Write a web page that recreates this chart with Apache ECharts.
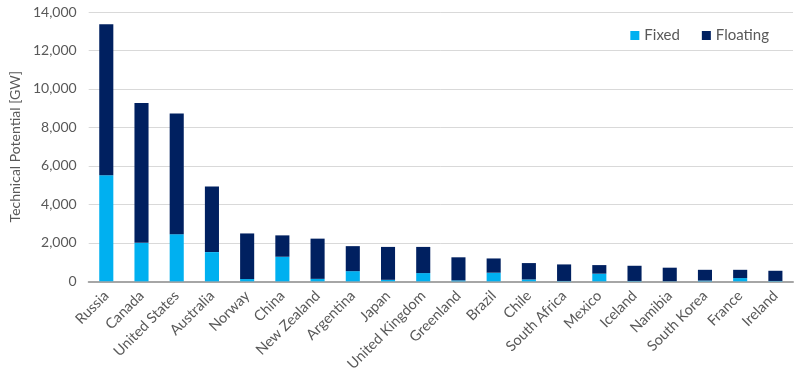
<!DOCTYPE html>
<html>
<head>
<meta charset="utf-8">
<script src="https://cdn.jsdelivr.net/npm/echarts@6/dist/echarts.min.js"></script>
<style>html,body{margin:0;padding:0;background:#fff}#c{width:800px;height:374px}</style>
</head>
<body>
<div id="c"></div>
<script>
const categories = ["Russia","Canada","United States","Australia","Norway","China","New Zealand","Argentina","Japan","United Kingdom","Greenland","Brazil","Chile","South Africa","Mexico","Iceland","Namibia","South Korea","France","Ireland"];
const fixed =    [5510, 2000, 2450, 1520, 120, 1280, 130, 530, 80, 430, 50, 450, 100, 20, 400, 20, 10, 40, 170, 20];
const floating = [7850, 7270, 6280, 3410, 2370, 1110, 2090, 1300, 1710, 1360, 1200, 740, 850, 860, 445, 790, 700, 560, 430, 530];
const yTicks = [0, 2000, 4000, 6000, 8000, 10000, 12000, 14000];

const FONT = 'Lato';
const chart = echarts.init(document.getElementById('c'));
chart.setOption({
  animation: false,
  textStyle: {fontFamily: FONT},
  grid: {left: 86, right: 7, top: 12, bottom: 92, containLabel: false},
  legend: {
    right: 26, top: 23, itemWidth: 9, itemHeight: 9, itemGap: 22,
    icon: 'rect',
    textStyle: {color: '#595959', fontSize: 15, fontFamily: FONT},
    data: ['Fixed', 'Floating']
  },
  xAxis: {
    type: 'category', data: categories,
    axisLine: {lineStyle: {color: '#a6a6a6', width: 2}},
    axisTick: {show: false},
    axisLabel: {rotate: 45, color: '#595959', fontSize: 14.5, margin: 12, interval: 0}
  },
  yAxis: {
    type: 'value', min: yTicks[0], max: yTicks[yTicks.length-1], interval: 2000,
    name: 'Technical Potential [GW]', nameLocation: 'middle', nameGap: 66,
    nameTextStyle: {color: '#595959', fontSize: 14},
    axisLine: {show: false}, axisTick: {show: false},
    axisLabel: {color: '#595959', fontSize: 14, margin: 12,
      formatter: v => v.toLocaleString('en-US')},
    splitLine: {lineStyle: {color: '#d9d9d9', width: 1}}
  },
  series: [
    {name: 'Fixed', type: 'bar', stack: 't', data: fixed, barWidth: '40%',
     itemStyle: {color: '#00B0F0'}},
    {name: 'Floating', type: 'bar', stack: 't', data: floating, barWidth: '40%',
     itemStyle: {color: '#002060'}}
  ]
});
</script>
</body>
</html>
